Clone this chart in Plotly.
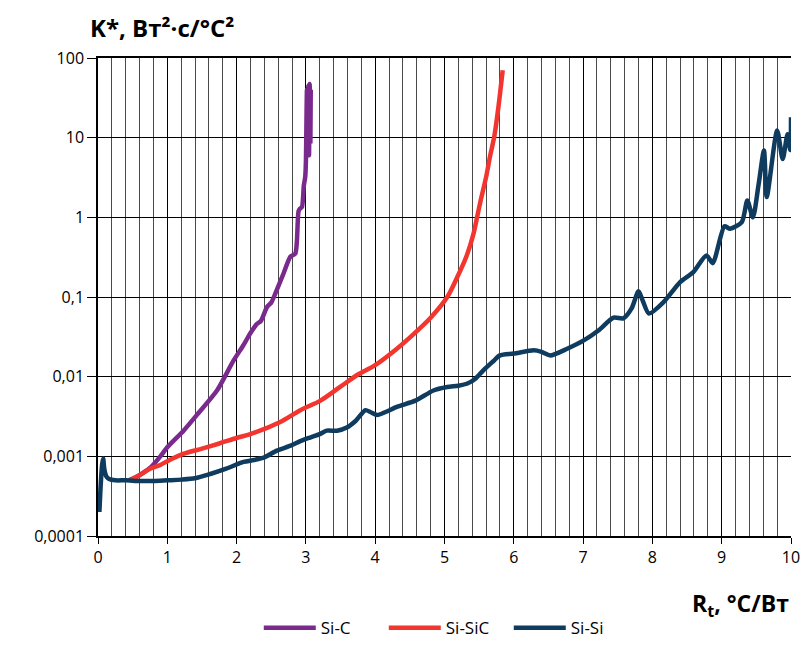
import plotly.graph_objects as go

# Thermal resistance R_t, °C/W  vs  K*, W^2*s/°C^2
si_c_x = [0.45, 0.55, 0.65, 0.755, 0.9, 1.0, 1.235, 1.45, 1.717, 1.957, 2.1, 2.198,
          2.294, 2.35, 2.439, 2.5, 2.558, 2.68, 2.775, 2.847, 2.87, 2.895, 2.92,
          2.944, 2.97, 2.99, 3.0, 3.015, 3.025, 3.035, 3.045, 3.055, 3.065, 3.07]
si_c_y = [0.0005, 0.00055, 0.00062, 0.00072, 0.001, 0.0013, 0.0021, 0.0035, 0.0067,
          0.016, 0.025, 0.035, 0.046, 0.05, 0.075, 0.085, 0.11, 0.2, 0.32, 0.35,
          0.5, 1.2, 1.3, 1.35, 2.5, 3.2, 5, 40, 12, 45, 6, 47, 9, 40]

si_sic_x = [0.45, 0.6, 0.75, 0.9, 1.0, 1.24, 1.5, 1.75, 2.0, 2.2, 2.63, 2.92, 3.21,
            3.5, 3.74, 4.0, 4.3, 4.55, 4.8, 5.04, 5.2, 5.32, 5.42, 5.47, 5.52, 5.6,
            5.66, 5.72, 5.78, 5.84]
si_sic_y = [0.0005, 0.00058, 0.0007, 0.00078, 0.00087, 0.00108, 0.00125, 0.00145,
            0.0017, 0.0019, 0.0027, 0.0038, 0.005, 0.0075, 0.0105, 0.014, 0.022,
            0.034, 0.055, 0.1, 0.19, 0.33, 0.63, 1.0, 1.6, 3.2, 6.0, 10.5, 25, 70]

si_si_x = [0.02, 0.04, 0.06, 0.075, 0.09, 0.12, 0.16, 0.25, 0.4, 0.6, 0.8, 1.0, 1.2,
           1.4, 1.62, 1.85, 2.1, 2.25, 2.4, 2.58, 2.78, 2.92, 3.06, 3.2, 3.3, 3.45,
           3.59, 3.72, 3.86, 3.93, 4.03, 4.15, 4.32, 4.58, 4.84, 5.04, 5.2, 5.33,
           5.45, 5.56, 5.7, 5.8, 6.0, 6.29, 6.4, 6.53, 6.77, 7.01, 7.22, 7.44, 7.58,
           7.7, 7.8, 7.86, 7.95, 8.16, 8.4, 8.59, 8.78, 8.87, 9.04, 9.12, 9.29, 9.37,
           9.45, 9.53, 9.61, 9.65, 9.8, 9.88, 9.95, 9.99, 10.0]
si_si_y = [0.0002, 0.00045, 0.0008, 0.00094, 0.0007, 0.00056, 0.00052, 0.0005, 0.0005,
           0.00049, 0.00049, 0.0005, 0.00051, 0.00053, 0.0006, 0.0007, 0.00085, 0.0009,
           0.00097, 0.00118, 0.00136, 0.00155, 0.00172, 0.0019, 0.0021, 0.0021, 0.0023,
           0.0028, 0.0038, 0.0036, 0.0033, 0.0036, 0.0042, 0.005, 0.0067, 0.0074,
           0.0077, 0.0082, 0.0095, 0.012, 0.0155, 0.0185, 0.0195, 0.0214, 0.0205,
           0.0185, 0.0224, 0.0285, 0.038, 0.055, 0.054, 0.072, 0.118, 0.09, 0.062,
           0.086, 0.154, 0.205, 0.333, 0.266, 0.77, 0.72, 0.87, 1.63, 1.0, 2.5, 6.9,
           1.8, 12.3, 5.4, 11, 7, 18]

y_tick_vals = [0.0001, 0.001, 0.01, 0.1, 1, 10, 100]
y_tick_text = ["0,0001", "0,001", "0,01", "0,1", "1", "10", "100"]
x_tick_vals = list(range(0, 11))

FONT = "Open Sans"

fig = go.Figure()
fig.add_trace(go.Scatter(x=si_c_x, y=si_c_y, name="Si-C", mode="lines",
                         line=dict(color="#7a2a8c", width=4.5, shape="spline", smoothing=0.6)))
fig.add_trace(go.Scatter(x=si_sic_x, y=si_sic_y, name="Si-SiC", mode="lines",
                         line=dict(color="#f2352e", width=4.5, shape="spline", smoothing=0.8)))
fig.add_trace(go.Scatter(x=si_si_x, y=si_si_y, name="Si-Si", mode="lines",
                         line=dict(color="#0f3c5e", width=4.5, shape="spline", smoothing=0.7)))

fig.update_layout(
    width=802, height=648,
    margin=dict(l=98, r=11, t=58, b=112, autoexpand=False),
    plot_bgcolor="white", paper_bgcolor="white",
    font=dict(family=FONT, size=16, color="black"),
    showlegend=True,
    legend=dict(orientation="h", x=0.232, xanchor="left", y=-0.193, yanchor="middle",
                font=dict(size=17), itemwidth=52, entrywidth=58, tracegroupgap=0,
                bgcolor="rgba(0,0,0,0)"),
    xaxis=dict(range=[0, 10], tickvals=x_tick_vals, ticks="outside", ticklen=6,
               tickcolor="black", showline=True, linecolor="black", linewidth=2,
               mirror=True, showgrid=True, gridcolor="black", gridwidth=1,
               zeroline=False,
               minor=dict(dtick=0.2, showgrid=True, gridcolor="#4a4a4a", gridwidth=1,
                          ticks="")),
    yaxis=dict(type="log", range=[-4, 2], tickvals=y_tick_vals, ticktext=y_tick_text,
               ticks="outside", ticklen=9, tickcolor="black", showline=True,
               linecolor="black", linewidth=1.5, showgrid=True, gridcolor="black",
               gridwidth=1, zeroline=False),
    annotations=[
        dict(text="<b>K*, Вт²·с/°C²</b>", xref="paper",
             yref="paper", x=-0.014, y=1.063, xanchor="left", yanchor="middle",
             showarrow=False, font=dict(size=24, family=FONT)),
        dict(text="<b>R<sub>t</sub>, °C/Вт</b>", xref="paper", yref="paper",
             x=1.0, y=-0.143, xanchor="right", yanchor="middle", showarrow=False,
             font=dict(size=23, family=FONT)),
    ],
)

fig.write_html("out.html")
